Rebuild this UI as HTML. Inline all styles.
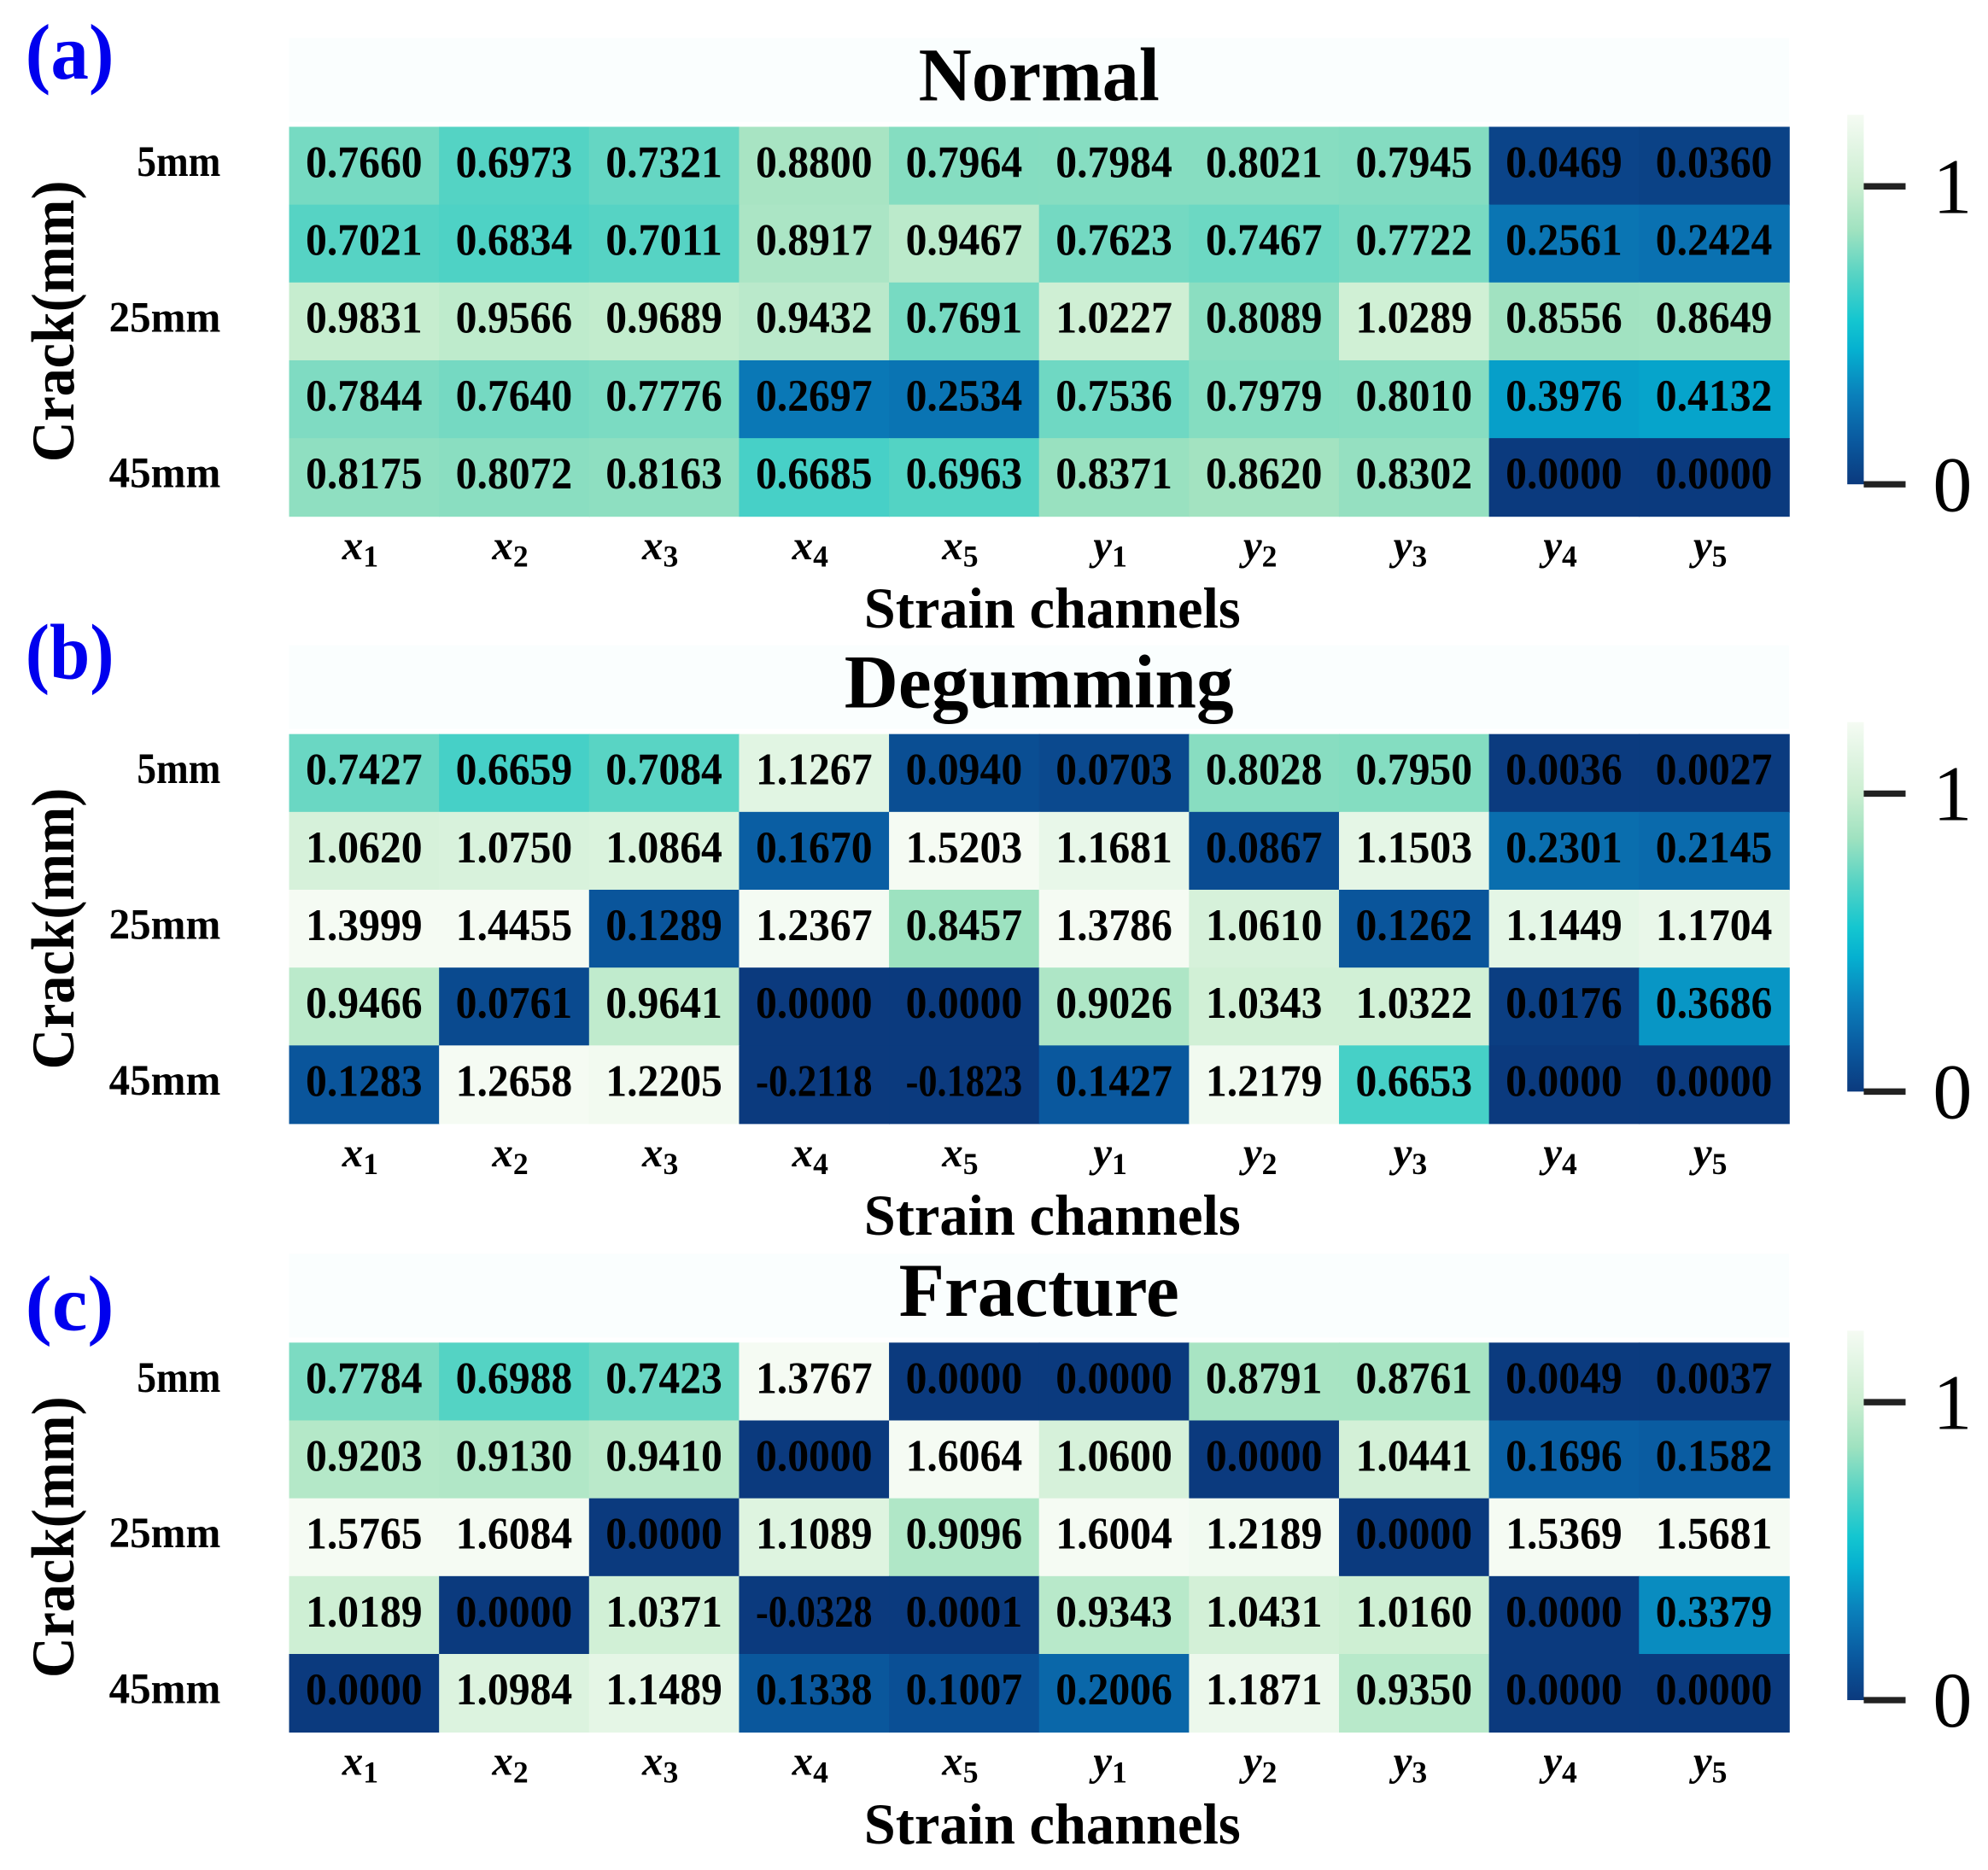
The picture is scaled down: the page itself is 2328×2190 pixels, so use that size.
<!DOCTYPE html>
<html><head><meta charset="utf-8"><style>
html,body{margin:0;padding:0;background:#fff;}
svg{display:block;}
text{font-family:"Liberation Serif","DejaVu Serif",serif;}
</style></head><body>
<svg id="fig" xmlns="http://www.w3.org/2000/svg" width="2328" height="2190" viewBox="0 0 1568 1475" preserveAspectRatio="none"></svg>
<script>
const rowLabels = ["5mm", "", "25mm", "", "45mm"];
const colLabels = [["x","1"],["x","2"],["x","3"],["x","4"],["x","5"],["y","1"],["y","2"],["y","3"],["y","4"],["y","5"]];
const panelTitles = ["Normal", "Degumming", "Fracture"];
const titleWidths = [190, 307, 221];
const panelTags = ["(a)", "(b)", "(c)"];
const tagOffsets = [38, 44, 10];
const normalValues = [
 [0.7660,0.6973,0.7321,0.8800,0.7964,0.7984,0.8021,0.7945,0.0469,0.0360],
 [0.7021,0.6834,0.7011,0.8917,0.9467,0.7623,0.7467,0.7722,0.2561,0.2424],
 [0.9831,0.9566,0.9689,0.9432,0.7691,1.0227,0.8089,1.0289,0.8556,0.8649],
 [0.7844,0.7640,0.7776,0.2697,0.2534,0.7536,0.7979,0.8010,0.3976,0.4132],
 [0.8175,0.8072,0.8163,0.6685,0.6963,0.8371,0.8620,0.8302,0.0000,0.0000]];
const degummingValues = [
 [0.7427,0.6659,0.7084,1.1267,0.0940,0.0703,0.8028,0.7950,0.0036,0.0027],
 [1.0620,1.0750,1.0864,0.1670,1.5203,1.1681,0.0867,1.1503,0.2301,0.2145],
 [1.3999,1.4455,0.1289,1.2367,0.8457,1.3786,1.0610,0.1262,1.1449,1.1704],
 [0.9466,0.0761,0.9641,0.0000,0.0000,0.9026,1.0343,1.0322,0.0176,0.3686],
 [0.1283,1.2658,1.2205,-0.2118,-0.1823,0.1427,1.2179,0.6653,0.0000,0.0000]];
const fractureValues = [
 [0.7784,0.6988,0.7423,1.3767,0.0000,0.0000,0.8791,0.8761,0.0049,0.0037],
 [0.9203,0.9130,0.9410,0.0000,1.6064,1.0600,0.0000,1.0441,0.1696,0.1582],
 [1.5765,1.6084,0.0000,1.1089,0.9096,1.6004,1.2189,0.0000,1.5369,1.5681],
 [1.0189,0.0000,1.0371,-0.0328,0.0001,0.9343,1.0431,1.0160,0.0000,0.3379],
 [0.0000,1.0984,1.1489,0.1338,0.1007,0.2006,1.1871,0.9350,0.0000,0.0000]];
const colorTicks = [0, 1];
const vmin = 0, vmax = 1.24;

const stops = [[0,"#0b3a7e"],[0.15,"#0a5aa0"],[0.3,"#0a80bb"],[0.45,"#05b0d0"],[0.55,"#14c6d0"],[0.7,"#55d3c4"],[0.85,"#9fe2c0"],[1.0,"#cbeed1"],[1.24,"#f5fbf3"]];
function hex2rgb(h){return [1,3,5].map(i=>parseInt(h.substr(i,2),16));}
function color(v){
  v=Math.max(vmin,Math.min(vmax,v));
  for(let i=1;i<stops.length;i++){
    if(v<=stops[i][0]){
      const a=stops[i-1],b=stops[i],t=(v-a[0])/(b[0]-a[0]);
      const c1=hex2rgb(a[1]),c2=hex2rgb(b[1]);
      return "rgb("+c1.map((c,k)=>Math.round(c+(c2[k]-c)*t)).join(",")+")";
    }
  }
  return stops[stops.length-1][1];
}
const NS="http://www.w3.org/2000/svg";
const svg=document.getElementById('fig');
function mk(tag,attrs,parent){const e=document.createElementNS(NS,tag);for(const k in attrs)e.setAttribute(k,attrs[k]);(parent||svg).appendChild(e);return e;}

const datasets=[normalValues,degummingValues,fractureValues];
const X0=228, X1=1411, H=307;
const panelTops=[100,579,1059];
const cw=(X1-X0)/10, ch=H/5;
function xScale(i){return X0+i*cw;}
function yScale(r,top){return top+r*ch;}

const defs=mk('defs',{});
const grad=mk('linearGradient',{id:'cbar',x1:0,y1:1,x2:0,y2:0},defs);
stops.forEach(s=>{mk('stop',{offset:(s[0]-vmin)/(vmax-vmin),'stop-color':s[1]},grad);});

datasets.forEach((data,p)=>{
  const top=panelTops[p];
  const g=mk('g',{});
  
  
  const band=mk('rect',{x:X0,y:top-70,width:X1-X0,height:66,fill:'#fafefe'},g);
  
  
  const tag=mk('text',{x:20,y:top-tagOffsets[p],'font-size':62,'font-weight':'bold',fill:'#0000ee',textLength:70,lengthAdjust:'spacingAndGlyphs'},g);
  tag.textContent=panelTags[p];
  
  
  const tt=mk('text',{x:(X0+X1)/2,y:top-21,'font-size':60,'font-weight':'bold','text-anchor':'middle',textLength:titleWidths[p],lengthAdjust:'spacingAndGlyphs'},g);
  tt.textContent=panelTitles[p];
  
  
  data.forEach((row,r)=>row.forEach((v,c)=>{
    const rc=mk('rect',{x:xScale(c),y:yScale(r,top),width:cw+0.6,height:ch+0.6,fill:color(v)},g);
    
    
    const t=mk('text',{x:xScale(c)+cw/2,y:yScale(r,top)+ch/2+9,'font-size':36,'font-weight':'bold','text-anchor':'middle',textLength:92,lengthAdjust:'spacingAndGlyphs'},g);
    t.textContent=v.toFixed(4);
    
    
  }));
  rowLabels.forEach((l,r)=>{
    if(!l)return;
    const t=mk('text',{x:174,y:yScale(r,top)+ch/2+8,'font-size':34,'font-weight':'bold','text-anchor':'end',textLength:l.length*22,lengthAdjust:'spacingAndGlyphs'},g);
    t.textContent=l;
    
    
  });
  const yt=mk('text',{x:0,y:0,'font-size':48,'font-weight':'bold','text-anchor':'middle',textLength:222,lengthAdjust:'spacingAndGlyphs',transform:`translate(58,${top+H/2}) rotate(-90)`},g);
  yt.textContent='Crack(mm)';
  
  
  colLabels.forEach((l,c)=>{
    const t=mk('text',{x:xScale(c)+cw/2-3,y:top+H+34,'font-size':33,'font-weight':'bold','font-style':'italic','text-anchor':'middle'},g);
    
    
    const a=mk('tspan',{},t);a.textContent=l[0];
    const b=mk('tspan',{'font-size':24,'font-style':'normal',dy:6},t);b.textContent=l[1];
  });
  const xt=mk('text',{x:830,y:top+H+88,'font-size':46,'font-weight':'bold','text-anchor':'middle',textLength:297,lengthAdjust:'spacingAndGlyphs'},g);
  xt.textContent='Strain channels';
  
  
  const cbBot=top+282, cbLen=235;
  const cy=v=>cbBot-(v-vmin)/(1-vmin)*cbLen;
  const cb=mk('rect',{x:1457,y:cy(vmax),width:13,height:cbBot-cy(vmax),fill:'url(#cbar)'},g);
  
  
  colorTicks.forEach(v=>{
    const ln=mk('line',{x1:1470,x2:1503,y1:cy(v),y2:cy(v),stroke:'#222','stroke-width':5},g);
    
    
    const t=mk('text',{x:1540,y:cy(v)+21,'font-size':62,'text-anchor':'middle'},g);
    t.textContent=String(v);
    
    
  });
});
</script>
</body></html>
